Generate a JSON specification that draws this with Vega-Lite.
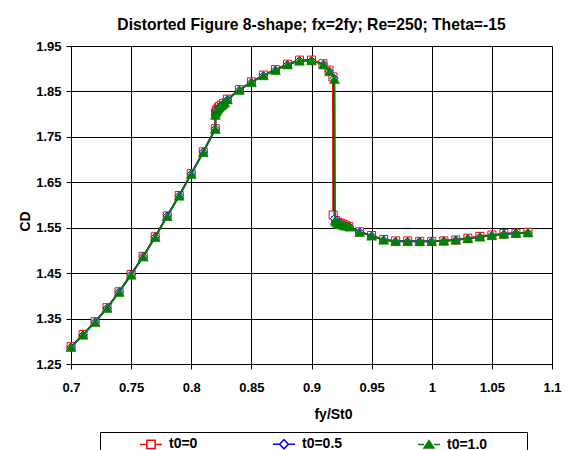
{
  "$schema": "https://vega.github.io/schema/vega-lite/v6.json",
  "autosize": {"type": "none"},
  "width": 481,
  "height": 318,
  "padding": {"left": 71, "top": 46, "right": 17, "bottom": 86},
  "background": "white",
  "title": {"text": "Distorted Figure 8-shape; fx=2fy; Re=250; Theta=-15", "fontSize": 15.7, "fontWeight": "bold", "font": "Liberation Sans", "color": "#000", "anchor": "middle", "offset": 6},
  "datasets": {
    "d": [
      {"s": "t0=0", "x": 0.70, "y": 1.288}, {"s": "t0=0", "x": 0.71, "y": 1.315}, {"s": "t0=0", "x": 0.72, "y": 1.343}, {"s": "t0=0", "x": 0.73, "y": 1.374}, {"s": "t0=0", "x": 0.74, "y": 1.409}, {"s": "t0=0", "x": 0.75, "y": 1.447}, {"s": "t0=0", "x": 0.76, "y": 1.487}, {"s": "t0=0", "x": 0.77, "y": 1.530}, {"s": "t0=0", "x": 0.78, "y": 1.576}, {"s": "t0=0", "x": 0.79, "y": 1.621}, {"s": "t0=0", "x": 0.80, "y": 1.669}, {"s": "t0=0", "x": 0.81, "y": 1.717}, {"s": "t0=0", "x": 0.82, "y": 1.768}, {"s": "t0=0", "x": 0.8203, "y": 1.802}, {"s": "t0=0", "x": 0.8208, "y": 1.808}, {"s": "t0=0", "x": 0.8215, "y": 1.811}, {"s": "t0=0", "x": 0.8225, "y": 1.814}, {"s": "t0=0", "x": 0.8235, "y": 1.817}, {"s": "t0=0", "x": 0.825, "y": 1.820}, {"s": "t0=0", "x": 0.827, "y": 1.824}, {"s": "t0=0", "x": 0.83, "y": 1.833}, {"s": "t0=0", "x": 0.84, "y": 1.854}, {"s": "t0=0", "x": 0.85, "y": 1.871}, {"s": "t0=0", "x": 0.86, "y": 1.886}, {"s": "t0=0", "x": 0.87, "y": 1.898}, {"s": "t0=0", "x": 0.88, "y": 1.910}, {"s": "t0=0", "x": 0.89, "y": 1.919}, {"s": "t0=0", "x": 0.90, "y": 1.919}, {"s": "t0=0", "x": 0.9095, "y": 1.911}, {"s": "t0=0", "x": 0.9145, "y": 1.897}, {"s": "t0=0", "x": 0.9178, "y": 1.882}, {"s": "t0=0", "x": 0.9180, "y": 1.578}, {"s": "t0=0", "x": 0.9200, "y": 1.566}, {"s": "t0=0", "x": 0.922, "y": 1.562}, {"s": "t0=0", "x": 0.924, "y": 1.560}, {"s": "t0=0", "x": 0.926, "y": 1.558}, {"s": "t0=0", "x": 0.928, "y": 1.556}, {"s": "t0=0", "x": 0.931, "y": 1.553}, {"s": "t0=0", "x": 0.94, "y": 1.541}, {"s": "t0=0", "x": 0.95, "y": 1.533}, {"s": "t0=0", "x": 0.96, "y": 1.524}, {"s": "t0=0", "x": 0.97, "y": 1.521}, {"s": "t0=0", "x": 0.98, "y": 1.521}, {"s": "t0=0", "x": 0.99, "y": 1.520}, {"s": "t0=0", "x": 1.00, "y": 1.520}, {"s": "t0=0", "x": 1.01, "y": 1.521}, {"s": "t0=0", "x": 1.02, "y": 1.523}, {"s": "t0=0", "x": 1.03, "y": 1.527}, {"s": "t0=0", "x": 1.04, "y": 1.531}, {"s": "t0=0", "x": 1.05, "y": 1.534}, {"s": "t0=0", "x": 1.06, "y": 1.537}, {"s": "t0=0", "x": 1.07, "y": 1.538}, {"s": "t0=0", "x": 1.08, "y": 1.540},

      {"s": "t0=0.5", "x": 0.70, "y": 1.287}, {"s": "t0=0.5", "x": 0.71, "y": 1.314}, {"s": "t0=0.5", "x": 0.72, "y": 1.343}, {"s": "t0=0.5", "x": 0.73, "y": 1.373}, {"s": "t0=0.5", "x": 0.74, "y": 1.409}, {"s": "t0=0.5", "x": 0.75, "y": 1.447}, {"s": "t0=0.5", "x": 0.76, "y": 1.487}, {"s": "t0=0.5", "x": 0.77, "y": 1.530}, {"s": "t0=0.5", "x": 0.78, "y": 1.576}, {"s": "t0=0.5", "x": 0.79, "y": 1.621}, {"s": "t0=0.5", "x": 0.80, "y": 1.669}, {"s": "t0=0.5", "x": 0.81, "y": 1.717}, {"s": "t0=0.5", "x": 0.82, "y": 1.768}, {"s": "t0=0.5", "x": 0.8202, "y": 1.800}, {"s": "t0=0.5", "x": 0.8207, "y": 1.806}, {"s": "t0=0.5", "x": 0.8214, "y": 1.810}, {"s": "t0=0.5", "x": 0.8223, "y": 1.813}, {"s": "t0=0.5", "x": 0.8233, "y": 1.816}, {"s": "t0=0.5", "x": 0.8247, "y": 1.819}, {"s": "t0=0.5", "x": 0.8265, "y": 1.822}, {"s": "t0=0.5", "x": 0.8285, "y": 1.826}, {"s": "t0=0.5", "x": 0.83, "y": 1.832}, {"s": "t0=0.5", "x": 0.84, "y": 1.853}, {"s": "t0=0.5", "x": 0.85, "y": 1.870}, {"s": "t0=0.5", "x": 0.86, "y": 1.885}, {"s": "t0=0.5", "x": 0.87, "y": 1.897}, {"s": "t0=0.5", "x": 0.88, "y": 1.909}, {"s": "t0=0.5", "x": 0.89, "y": 1.918}, {"s": "t0=0.5", "x": 0.90, "y": 1.918}, {"s": "t0=0.5", "x": 0.91, "y": 1.910}, {"s": "t0=0.5", "x": 0.9148, "y": 1.895}, {"s": "t0=0.5", "x": 0.9188, "y": 1.879}, {"s": "t0=0.5", "x": 0.9191, "y": 1.570}, {"s": "t0=0.5", "x": 0.9203, "y": 1.563}, {"s": "t0=0.5", "x": 0.922, "y": 1.561}, {"s": "t0=0.5", "x": 0.9237, "y": 1.559}, {"s": "t0=0.5", "x": 0.9255, "y": 1.557}, {"s": "t0=0.5", "x": 0.9275, "y": 1.555}, {"s": "t0=0.5", "x": 0.9295, "y": 1.554}, {"s": "t0=0.5", "x": 0.9318, "y": 1.552}, {"s": "t0=0.5", "x": 0.94, "y": 1.541}, {"s": "t0=0.5", "x": 0.95, "y": 1.532}, {"s": "t0=0.5", "x": 0.96, "y": 1.523}, {"s": "t0=0.5", "x": 0.97, "y": 1.520}, {"s": "t0=0.5", "x": 0.98, "y": 1.520}, {"s": "t0=0.5", "x": 0.99, "y": 1.520}, {"s": "t0=0.5", "x": 1.00, "y": 1.520}, {"s": "t0=0.5", "x": 1.01, "y": 1.521}, {"s": "t0=0.5", "x": 1.02, "y": 1.523}, {"s": "t0=0.5", "x": 1.03, "y": 1.526}, {"s": "t0=0.5", "x": 1.04, "y": 1.530}, {"s": "t0=0.5", "x": 1.05, "y": 1.533}, {"s": "t0=0.5", "x": 1.06, "y": 1.536}, {"s": "t0=0.5", "x": 1.07, "y": 1.538}, {"s": "t0=0.5", "x": 1.08, "y": 1.539},

      {"s": "t0=1.0", "x": 0.70, "y": 1.287}, {"s": "t0=1.0", "x": 0.71, "y": 1.314}, {"s": "t0=1.0", "x": 0.72, "y": 1.342}, {"s": "t0=1.0", "x": 0.73, "y": 1.373}, {"s": "t0=1.0", "x": 0.74, "y": 1.408}, {"s": "t0=1.0", "x": 0.75, "y": 1.446}, {"s": "t0=1.0", "x": 0.76, "y": 1.486}, {"s": "t0=1.0", "x": 0.77, "y": 1.529}, {"s": "t0=1.0", "x": 0.78, "y": 1.575}, {"s": "t0=1.0", "x": 0.79, "y": 1.620}, {"s": "t0=1.0", "x": 0.80, "y": 1.668}, {"s": "t0=1.0", "x": 0.81, "y": 1.716}, {"s": "t0=1.0", "x": 0.82, "y": 1.767}, {"s": "t0=1.0", "x": 0.8201, "y": 1.798}, {"s": "t0=1.0", "x": 0.8207, "y": 1.805}, {"s": "t0=1.0", "x": 0.8214, "y": 1.809}, {"s": "t0=1.0", "x": 0.8222, "y": 1.812}, {"s": "t0=1.0", "x": 0.8232, "y": 1.815}, {"s": "t0=1.0", "x": 0.8245, "y": 1.818}, {"s": "t0=1.0", "x": 0.826, "y": 1.821}, {"s": "t0=1.0", "x": 0.828, "y": 1.825}, {"s": "t0=1.0", "x": 0.83, "y": 1.832}, {"s": "t0=1.0", "x": 0.84, "y": 1.853}, {"s": "t0=1.0", "x": 0.85, "y": 1.870}, {"s": "t0=1.0", "x": 0.86, "y": 1.885}, {"s": "t0=1.0", "x": 0.87, "y": 1.897}, {"s": "t0=1.0", "x": 0.88, "y": 1.909}, {"s": "t0=1.0", "x": 0.89, "y": 1.917}, {"s": "t0=1.0", "x": 0.90, "y": 1.918}, {"s": "t0=1.0", "x": 0.91, "y": 1.909}, {"s": "t0=1.0", "x": 0.915, "y": 1.894}, {"s": "t0=1.0", "x": 0.9192, "y": 1.877}, {"s": "t0=1.0", "x": 0.9196, "y": 1.566}, {"s": "t0=1.0", "x": 0.9205, "y": 1.562}, {"s": "t0=1.0", "x": 0.922, "y": 1.560}, {"s": "t0=1.0", "x": 0.9235, "y": 1.558}, {"s": "t0=1.0", "x": 0.925, "y": 1.557}, {"s": "t0=1.0", "x": 0.927, "y": 1.555}, {"s": "t0=1.0", "x": 0.929, "y": 1.554}, {"s": "t0=1.0", "x": 0.932, "y": 1.552}, {"s": "t0=1.0", "x": 0.94, "y": 1.540}, {"s": "t0=1.0", "x": 0.95, "y": 1.532}, {"s": "t0=1.0", "x": 0.96, "y": 1.523}, {"s": "t0=1.0", "x": 0.97, "y": 1.520}, {"s": "t0=1.0", "x": 0.98, "y": 1.520}, {"s": "t0=1.0", "x": 0.99, "y": 1.520}, {"s": "t0=1.0", "x": 1.00, "y": 1.520}, {"s": "t0=1.0", "x": 1.01, "y": 1.521}, {"s": "t0=1.0", "x": 1.02, "y": 1.523}, {"s": "t0=1.0", "x": 1.03, "y": 1.526}, {"s": "t0=1.0", "x": 1.04, "y": 1.530}, {"s": "t0=1.0", "x": 1.05, "y": 1.533}, {"s": "t0=1.0", "x": 1.06, "y": 1.536}, {"s": "t0=1.0", "x": 1.07, "y": 1.538}, {"s": "t0=1.0", "x": 1.08, "y": 1.539}
    ]
  },
  "data": {"name": "d"},
  "encoding": {
    "x": {"field": "x", "type": "quantitative",
      "scale": {"domain": [0.7, 1.1], "nice": false, "zero": false},
      "axis": {"values": [0.7, 0.75, 0.8, 0.85, 0.9, 0.95, 1, 1.05, 1.1], "format": "~g", "title": "fy/St0", "titleX": 262, "titleY": 54, "titleBaseline": "alphabetic", "tickSize": 5, "labelPadding": 12, "labelFlush": false}},
    "y": {"field": "y", "type": "quantitative",
      "scale": {"domain": [1.25, 1.95], "nice": false, "zero": false},
      "axis": {"values": [1.25, 1.35, 1.45, 1.55, 1.65, 1.75, 1.85, 1.95], "format": ".2f", "title": "CD", "titleX": -42, "titleY": 175, "titleBaseline": "alphabetic", "titleAngle": 270, "tickSize": 5, "labelPadding": 5, "labelFlush": false}}
  },
  "layer": [
    {"transform": [{"filter": "datum.s === 't0=0'"}], "mark": {"type": "line", "color": "#ff0000", "strokeWidth": 1.75}, "encoding": {}},
    {"transform": [{"filter": "datum.s === 't0=0'"}], "mark": {"type": "point", "shape": "square", "filled": true, "fill": "#ffffff", "stroke": "#ff0000", "strokeWidth": 1, "size": 64, "opacity": 1}, "encoding": {}},
    {"transform": [{"filter": "datum.s === 't0=0.5'"}], "mark": {"type": "line", "color": "#0000ff", "strokeWidth": 1.75}, "encoding": {}},
    {"transform": [{"filter": "datum.s === 't0=0.5'"}], "mark": {"type": "point", "shape": "diamond", "filled": true, "fill": "#ffffff", "stroke": "#0000ff", "strokeWidth": 1, "size": 64, "opacity": 1}, "encoding": {}},
    {"transform": [{"filter": "datum.s === 't0=1.0'"}], "mark": {"type": "line", "color": "#008000", "strokeWidth": 1.75}, "encoding": {}},
    {"transform": [{"filter": "datum.s === 't0=1.0'"}], "mark": {"type": "point", "shape": "triangle-up", "filled": true, "fill": "#008000", "stroke": "#008000", "strokeWidth": 0.5, "size": 100, "opacity": 1}, "encoding": {}},
    {"mark": {"type": "point", "opacity": 0, "filled": false},
     "encoding": {
       "shape": {"field": "s", "type": "nominal",
         "scale": {"domain": ["t0=0", "t0=0.5", "t0=1.0"],
           "range": ["M-1,0H-0.38M0.38,0H1M-0.38,-0.38H0.38V0.38H-0.38Z", "M-1,0H-0.4M0.4,0H1M-0.4,0L0,-0.42L0.4,0L0,0.42Z", "M-1,0H-0.45M0.45,0H1M-0.45,0.32L0,-0.36L0.45,0.32ZM8.6,0"]},
         "legend": {"title": null, "orient": "none", "legendX": 29, "legendY": 386, "direction": "horizontal", "padding": 0, "strokeColor": "#000", "fillColor": "#fff", "symbolSize": 484, "symbolStrokeWidth": 1.5, "symbolOpacity": 1, "symbolFillColor": "#ffffff", "symbolOffset": 39, "labelOffset": 6, "columnPadding": 35, "labelFont": "Liberation Sans", "labelFontSize": 14, "labelFontWeight": "bold", "labelColor": "#000"}},
       "stroke": {"field": "s", "type": "nominal",
         "scale": {"domain": ["t0=0", "t0=0.5", "t0=1.0"], "range": ["#ff0000", "#0000ff", "#008000"]},
         "legend": {"title": null, "orient": "none", "legendX": 29, "legendY": 386, "direction": "horizontal", "padding": 0, "strokeColor": "#000", "fillColor": "#fff", "symbolSize": 484, "symbolStrokeWidth": 1.5, "symbolOpacity": 1, "symbolFillColor": "#ffffff", "symbolOffset": 39, "labelOffset": 6, "columnPadding": 35, "labelFont": "Liberation Sans", "labelFontSize": 14, "labelFontWeight": "bold", "labelColor": "#000"}},
       "fill": {"field": "s", "type": "nominal",
         "scale": {"domain": ["t0=0", "t0=0.5", "t0=1.0"], "range": ["#ffffff", "#ffffff", "#008000"]},
         "legend": {"title": null, "orient": "none", "legendX": 29, "legendY": 386, "direction": "horizontal", "padding": 0, "strokeColor": "#000", "fillColor": "#fff", "symbolSize": 484, "symbolStrokeWidth": 1.5, "symbolOpacity": 1, "symbolFillColor": "#ffffff", "symbolOffset": 39, "labelOffset": 6, "columnPadding": 35, "labelFont": "Liberation Sans", "labelFontSize": 14, "labelFontWeight": "bold", "labelColor": "#000"}}
     }}
  ],
  "config": {
    "font": "Liberation Sans",
    "view": {"stroke": "#808080", "strokeWidth": 1},
    "axis": {"labelFont": "Liberation Sans", "labelFontSize": 13, "labelFontWeight": "bold", "labelColor": "#000", "titleFont": "Liberation Sans", "titleFontSize": 14, "titleFontWeight": "bold", "titleColor": "#000", "domainColor": "#000", "tickColor": "#000", "gridColor": "#000", "gridOpacity": 1, "grid": true}
  }
}
